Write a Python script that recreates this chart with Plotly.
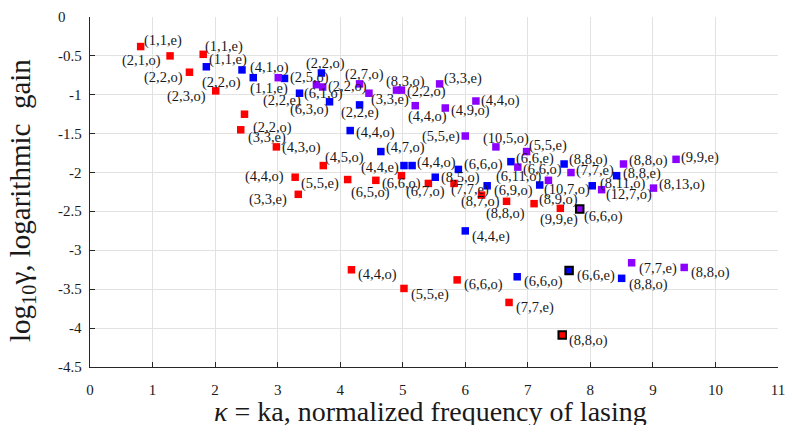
import plotly.graph_objects as go

# ---------------- data ----------------
red_x = [0.81, 1.28, 1.81, 1.59, 2.01, 2.47, 2.41, 2.98, 3.73, 3.28, 3.33, 4.12, 4.57, 4.98, 5.41,
         5.82, 6.26, 6.66, 7.10, 7.52, 4.18, 5.02, 5.87, 6.70, 7.55]
red_y = [-0.38, -0.50, -0.48, -0.71, -0.95, -1.25, -1.45, -1.67, -1.91, -2.06, -2.28, -2.09, -2.10,
         -2.04, -2.14, -2.14, -2.29, -2.37, -2.40, -2.46, -3.25, -3.49, -3.38, -3.67, -4.09]
red_labels = ["(1,1,e)", "(2,1,o)", "(1,1,e)", "(2,2,o)", "(2,3,o)", "(2,2,o)", "(3,3,e)", "(4,3,o)",
              "(4,5,o)", "(4,4,o)", "(3,3,e)", "(5,5,e)", "(6,5,o)", "(6,6,o)", "(6,7,o)", "(7,7,e)",
              "(8,7,o)", "(8,8,o)", "(8,9,o)", "(9,9,e)", "(4,4,o)", "(5,5,e)", "(6,6,o)", "(7,7,e)",
              "(8,8,o)"]
red_highlight = [24]

blue_x = [1.86, 2.43, 2.61, 3.11, 3.35, 3.70, 3.83, 4.31, 4.16, 4.65, 5.02, 5.15, 5.52, 5.89, 6.35,
          6.73, 7.19, 7.58, 8.03, 8.42, 6.00, 6.83, 7.66, 8.50]
blue_y = [-0.64, -0.68, -0.78, -0.79, -0.98, -0.72, -1.09, -1.13, -1.46, -1.73, -1.91, -1.91, -2.06,
          -1.96, -2.17, -1.86, -2.16, -1.89, -2.17, -2.04, -2.75, -3.34, -3.26, -3.36]
blue_labels = ["(1,1,e)", "(4,1,o)", "(2,2,o)", "(2,5,o)", "(2,2,e)", "(2,2,o)", "(6,3,o)", "(2,2,e)",
               "(4,4,o)", "(4,7,o)", "(4,4,e)", "(4,4,o)", "(8,5,o)", "(6,6,o)", "(6,9,o)", "(6,6,e)",
               "(6,11,o)", "(8,8,o)", "(8,11,o)", "(8,8,e)", "(4,4,e)", "(6,6,o)", "(6,6,e)", "(8,8,o)"]
blue_highlight = [22]

purple_x = [3.01, 3.62, 3.72, 4.31, 4.46, 4.90, 4.98, 5.59, 5.20, 5.68, 6.17, 6.00, 6.49, 6.98, 6.84,
            7.33, 7.69, 8.53, 8.18, 9.01, 9.37, 7.83, 8.66, 9.50]
purple_y = [-0.78, -0.87, -0.90, -0.86, -0.98, -0.94, -0.94, -0.86, -1.14, -1.17, -1.08, -1.53, -1.67,
            -1.73, -1.93, -2.10, -2.00, -1.89, -2.22, -2.20, -1.83, -2.47, -3.16, -3.22]
purple_labels = ["(1,1,e)", "(6,1,o)", "(2,2,o)", "(2,7,o)", "(3,3,e)", "(8,3,o)", "(2,2,o)", "(3,3,e)",
                 "(4,4,o)", "(4,9,o)", "(4,4,o)", "(5,5,e)", "(10,5,o)", "(5,5,e)", "(6,6,o)", "(10,7,o)",
                 "(7,7,e)", "(8,8,o)", "(12,7,o)", "(8,13,o)", "(9,9,e)", "(6,6,o)", "(7,7,e)", "(8,8,o)"]
purple_highlight = [21]

x_ticks = [0, 1, 2, 3, 4, 5, 6, 7, 8, 9, 10, 11]
x_ticktext = ["0", "1", "2", "3", "4", "5", "6", "7", "8", "9", "10", "11"]
y_ticks = [-4.5, -4, -3.5, -3, -2.5, -2, -1.5, -1, -0.5, 0]
y_ticktext = ["-4.5", "-4", "-3.5", "-3", "-2.5", "-2", "-1.5", "-1", "-0.5", "0"]

x_title = "<i>κ</i> = ka, normalized frequency of lasing"
y_title = "log<sub>10</sub>γ, logarithmic\u00a0\u00a0gain"

# ---------------- label placement (style: anchor side, pixel shift right, pixel shift down) -------
red_label_pos = [("L", 2.5, -6), ("R", -8, 4.5), ("L", 0.5, -8.3), ("R", -5.5, 5.7), ("R", -9, 6),
                 ("L", 7.3, 13), ("L", 6.3, 7.3), ("L", 5, 0.6), ("L", 1, -8.4), ("R", -10, -0.6),
                 ("R", -10, 5.3), ("R", -8, 4), ("L", -26, 11.7), ("L", -20, 7.6), ("L", -23.7, 8.4),
                 ("L", -4, 6), ("L", -21.7, 6.7), ("L", -21.7, 11.7), ("L", 4, -4.4), ("L", -21.4, 11.3),
                 ("L", 5.6, 5), ("L", 5.7, 5.7), ("L", 5.4, 4.3), ("L", 5.7, 5), ("L", 6, 5)]
blue_label_pos = [("L", 2, -7), ("L", 6.6, -2.7), ("R", -11, 4.6), ("L", 4, -1), ("R", 2, 7),
                  ("L", -16.3, -9.5), ("R", 0.7, 8), ("L", -20, 7.7), ("L", 5, 2), ("L", 4, -4.4),
                  ("R", -4.3, 1.6), ("L", 3.7, -3), ("L", 4.5, 0), ("L", 4.4, -5.3), ("L", 6, 4.3),
                  ("L", 4, -3.2), ("R", 3.3, -8.3), ("L", 4.3, -4.3), ("L", 7, -2.4), ("L", 5, -2.4),
                  ("L", 5.7, 6), ("L", 6, 5), ("L", 6.7, 5.3), ("L", 6.6, 5.7)]
purple_label_pos = [("L", -29, 10.6), ("L", -13.4, 9.3), ("L", 4.5, -0.5), ("L", -16, -9.7), ("L", 1, 6.7),
                    ("L", -11.7, -8.3), ("L", 5, 1.7), ("L", 3.6, -5.7), ("L", -8.3, 10.7), ("L", 4.5, 2.3),
                    ("L", 4.3, -1), ("R", -4.5, 0.7), ("L", -14.3, -8.4), ("L", 1.6, -6.5), ("L", 4, 2),
                    ("L", -5, 9.5), ("L", 4, -2), ("L", 4, -3.6), ("L", 3.5, 5), ("L", 4, -3.5),
                    ("L", 4, -2.3), ("L", 3.3, 7.7), ("L", 6.6, 5.8), ("L", 6, 5)]
# y tick label horizontal shift (px); the top "0" sits further left in the original
y_tick_shift = [-7, -7, -7, -7, -7, -7, -7, -7, -7, -23]

SERIF = "Liberation Serif"
TXT = "#1a1a1a"

series = [
    (red_x, red_y, red_labels, red_highlight, red_label_pos, "#ff0000"),
    (blue_x, blue_y, blue_labels, blue_highlight, blue_label_pos, "#0000ff"),
    (purple_x, purple_y, purple_labels, purple_highlight, purple_label_pos, "#8c00ff"),
]

fig = go.Figure()
annotations = []
for xs, ys, labs, hl, pos, col in series:
    lw = [2 if i in hl else 0 for i in range(len(xs))]
    fig.add_trace(go.Scatter(
        x=xs, y=ys, mode="markers", showlegend=False, cliponaxis=False, hoverinfo="skip",
        marker=dict(symbol="square", size=7.5, color=col,
                    line=dict(color="#000000", width=lw)),
    ))
    for xv, yv, lab, (anc, dx, dy) in zip(xs, ys, labs, pos):
        annotations.append(dict(
            x=xv, y=yv, xref="x", yref="y", text=lab, showarrow=False,
            xanchor="left" if anc == "L" else "right", yanchor="middle",
            xshift=dx, yshift=-dy, borderpad=0,
            font=dict(family=SERIF, size=14.5, color=TXT),
        ))

# y tick labels (hyphen-minus as in the original)
for tv, tt, sh in zip(y_ticks, y_ticktext, y_tick_shift):
    annotations.append(dict(
        x=0, y=tv, xref="paper", yref="y", text=tt, showarrow=False,
        xanchor="right", yanchor="middle", xshift=sh, borderpad=0,
        font=dict(family=SERIF, size=15, color=TXT),
    ))

annotations.append(dict(
    text=x_title, xref="paper", yref="paper", x=0.495, y=-0.126,
    xanchor="center", yanchor="middle", showarrow=False,
    font=dict(family=SERIF, size=28, color=TXT),
))
annotations.append(dict(
    text=y_title, xref="paper", yref="paper", x=-0.099, y=0.477, textangle=-90,
    xanchor="center", yanchor="middle", showarrow=False,
    font=dict(family=SERIF, size=29, color=TXT),
))

axis_common = dict(
    showgrid=True, gridcolor="#e2e2e2", gridwidth=1, zeroline=False,
    showline=True, linecolor="#262626", linewidth=1, mirror=False,
    ticks="inside", ticklen=5, tickwidth=1, tickcolor="#262626",
    tickfont=dict(family=SERIF, size=15, color=TXT), automargin=False,
)

fig.update_layout(
    width=786, height=425,
    margin=dict(l=90, r=8, t=17, b=58),
    paper_bgcolor="white", plot_bgcolor="white",
    xaxis=dict(range=[0, 11], tickmode="array", tickvals=x_ticks, ticktext=x_ticktext,
               ticklabelstandoff=9, **axis_common),
    yaxis=dict(range=[-4.5, 0], tickmode="array", tickvals=y_ticks, showticklabels=False,
               **axis_common),
    annotations=annotations,
    showlegend=False,
    hovermode=False,
)

fig.write_html(
    "out.html",
    config={"displayModeBar": False},
    post_script="document.body.style.margin='0';document.body.style.overflow='hidden';",
)
